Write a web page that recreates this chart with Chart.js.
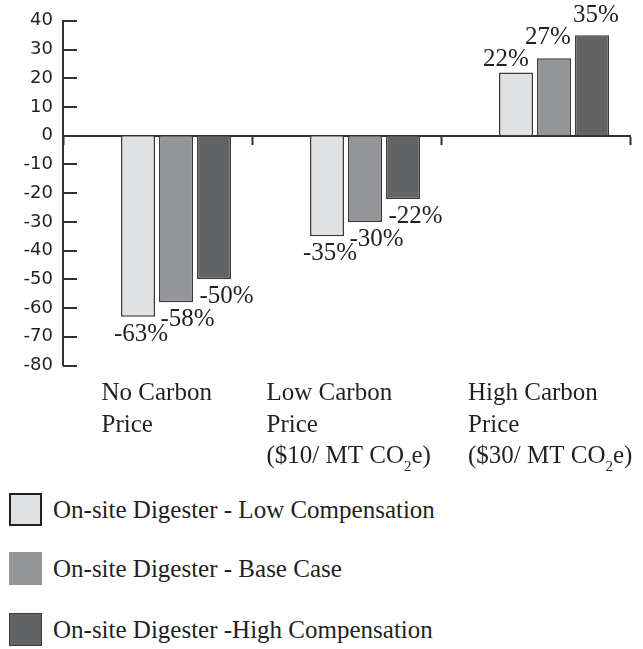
<!DOCTYPE html>
<html>
<head>
<meta charset="utf-8">
<script src="https://cdn.jsdelivr.net/npm/chart.js@4.4.1/dist/chart.umd.min.js"></script>
<style>
  body { margin: 0; background: #fff; }
  #wrap { position: relative; width: 643px; height: 480px; }
  #legend { position: relative; height: 169px; font-family: "Liberation Serif", serif; font-size: 25px; color: #231f20; }
  .item { position: absolute; left: 9px; display: flex; align-items: center; white-space: nowrap; }
  .box { width: 33px; height: 33px; box-sizing: border-box; margin-right: 11px; }
</style>
</head>
<body>
<div id="wrap"><canvas id="chart" width="643" height="480"></canvas></div>
<div id="legend"></div>
<script>
// Data
var categories = [
    ['No Carbon', 'Price'],
    ['Low Carbon', 'Price', '($10/ MT CO₂e)'],
    ['High Carbon', 'Price', '($30/ MT CO₂e)']
];
var seriesNames = [
    'On-site Digester - Low Compensation',
    'On-site Digester - Base Case',
    'On-site Digester -High Compensation'
];
var lowComp = [-63, -35, 22];
var baseCase = [-58, -30, 27];
var highComp = [-50, -22, 35];
var yMin = -80, yMax = 40, yStep = 10;

// Layout / style
var colors = ['#e0e1e3', '#939598', '#626365'];
var legendBorders = ['2px solid #231f20', 'none', '1.5px solid #3a3a3a'];
var legendTops = [13, 72, 133];
var groupShift = 0.598;          // groups sit right of the category centre
var labelShift = [-74.5, -98.5, -86];
// value label nudges per series (negative bars / positive bars)
var negDx = [3, 11.5, 12.5], negDy = 24;
var posDx = [-10, -6, 4], posDy = [-7, -14, -13];
var textColor = '#231f20';
var serif = '"Liberation Serif", serif';

function toPoints(arr) {
    return arr.map(function (v, i) { return { x: i, y: v }; });
}

// draw a line of text, rendering "₂" as a real lowered subscript
function drawSub(ctx, text, x, y) {
    var parts = text.split('₂');
    parts.forEach(function (p, k) {
        ctx.font = '25px ' + serif;
        ctx.fillText(p, x, y);
        x += ctx.measureText(p).width;
        if (k < parts.length - 1) {
            ctx.font = '15px ' + serif;
            ctx.fillText('2', x, y + 8);
            x += ctx.measureText('2').width;
        }
    });
}

var decor = {
    id: 'decor',
    afterDatasetsDraw: function (chart) {
        var ctx = chart.ctx, xs = chart.scales.x, ys = chart.scales.y;
        ctx.save();
        // inward tick marks on the y axis
        ctx.strokeStyle = '#333';
        ctx.lineWidth = 2;
        ys.ticks.forEach(function (t) {
            var py = Math.round(ys.getPixelForValue(t.value));
            ctx.beginPath();
            ctx.moveTo(xs.left, py);
            ctx.lineTo(xs.left + 14, py);
            ctx.stroke();
        });
        // value labels
        ctx.fillStyle = textColor;
        ctx.font = '25px ' + serif;
        ctx.textAlign = 'center';
        chart.data.datasets.forEach(function (ds, di) {
            chart.getDatasetMeta(di).data.forEach(function (bar, i) {
                var v = ds.data[i].y;
                if (v < 0) ctx.fillText(v + '%', bar.x + negDx[di], bar.y + negDy);
                else ctx.fillText(v + '%', bar.x + posDx[di], bar.y + posDy[di]);
            });
        });
        // category labels
        ctx.textAlign = 'left';
        categories.forEach(function (lines, i) {
            var lx = xs.getPixelForValue(i) + labelShift[i];
            lines.forEach(function (line, j) {
                drawSub(ctx, line, lx, ys.bottom + 34.5 + j * 31.5);
            });
        });
        ctx.restore();
    }
};

var chartData = {
    datasets: [lowComp, baseCase, highComp].map(function (vals, i) {
        return {
            label: seriesNames[i],
            data: toPoints(vals),
            backgroundColor: colors[i],
            borderColor: '#3a3a3a',
            borderWidth: 1.5
        };
    })
};

var chartOptions = {
    responsive: false,
    animation: false,
    categoryPercentage: 0.6032,
    barPercentage: 0.8947,
    layout: { padding: { top: 19.5, right: 13, bottom: 114.5, left: 0 } },
    scales: {
        x: {
            type: 'linear',
            offset: false,
            position: { y: 0 },
            min: -groupShift,
            max: categories.length - groupShift,
            afterBuildTicks: function (s) {
                s.ticks = [0, 1, 2, 3].map(function (k) { return { value: k - groupShift }; });
            },
            ticks: { display: false },
            grid: { offset: false, drawOnChartArea: false, drawTicks: true, tickLength: 8, tickWidth: 2, color: '#333' },
            border: { color: '#333', width: 2 }
        },
        y: {
            min: yMin,
            max: yMax,
            afterFit: function (s) { s.width = 63; },
            ticks: {
                stepSize: yStep,
                padding: 10,
                color: textColor,
                font: { family: 'DejaVu Sans', size: 18 }
            },
            grid: { drawOnChartArea: false, drawTicks: false },
            border: { color: '#333', width: 2 }
        }
    },
    plugins: {
        legend: { display: false },
        tooltip: { enabled: false }
    }
};

var chart = new Chart(document.getElementById('chart').getContext('2d'), {
    type: 'bar',
    data: chartData,
    options: chartOptions,
    plugins: [decor]
});

// Legend, one entry per line
var legend = document.getElementById('legend');
chart.data.datasets.forEach(function (ds, i) {
    var item = document.createElement('div');
    item.className = 'item';
    item.style.top = legendTops[i] + 'px';
    var box = document.createElement('span');
    box.className = 'box';
    box.style.background = ds.backgroundColor;
    box.style.border = legendBorders[i];
    var txt = document.createElement('span');
    txt.textContent = ds.label;
    item.appendChild(box);
    item.appendChild(txt);
    legend.appendChild(item);
});
</script>
</body>
</html>
